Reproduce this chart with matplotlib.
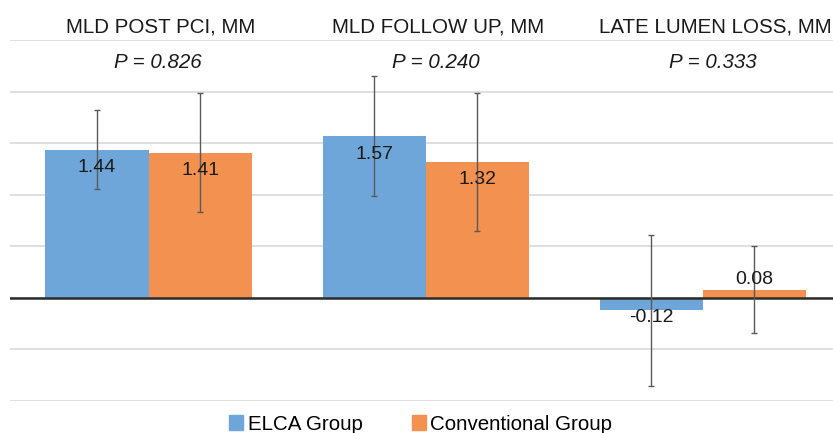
import numpy as np
import matplotlib.pyplot as plt
from matplotlib.patches import Patch

categories = ["MLD POST PCI, MM", "MLD FOLLOW UP, MM", "LATE LUMEN LOSS, MM"]
p_values = ["P = 0.826", "P = 0.240", "P = 0.333"]
elca = [1.44, 1.57, -0.12]
elca_err = [0.38, 0.58, 0.73]
conv = [1.41, 1.32, 0.08]
conv_err = [0.58, 0.67, 0.42]
series_names = ["ELCA Group", "Conventional Group"]

blue = "#6fa6da"
orange = "#f29150"
txt = "#1a1a1a"

plt.rcParams['font.family'] = ['Liberation Sans', 'DejaVu Sans']

fig = plt.figure(figsize=(8.33, 4.33), dpi=100)
ax = fig.add_axes([10 / 833, 1 - 401 / 433, 831.5 / 833, (401 - 40.3) / 433])

x = np.arange(len(categories))
w = 0.372

ax.set_xlim(-0.5, 2.5)
ax.set_ylim(-1.0, 2.5)
ax.set_yticks(np.arange(-1.0, 2.51, 0.5))
ax.yaxis.grid(True, color="#d9d9d9", linewidth=1.2)
ax.set_axisbelow(True)
for s in ax.spines.values():
    s.set_visible(False)
ax.tick_params(left=False, bottom=False, labelleft=False, labelbottom=False)

ax.bar(x - w / 2, elca, w, color=blue, zorder=2)
ax.bar(x + w / 2, conv, w, color=orange, zorder=2)
ax.axhline(0, color="#2b2b2b", linewidth=1.8, zorder=3)

ax.errorbar(x - w / 2, elca, yerr=elca_err, fmt="none", ecolor="#5a5a5a",
            elinewidth=1, capsize=2.5, capthick=1, zorder=4)
ax.errorbar(x + w / 2, conv, yerr=conv_err, fmt="none", ecolor="#5a5a5a",
            elinewidth=1, capsize=2.5, capthick=1, zorder=4)

# value labels (Excel-like placement)
def label(xp, v):
    if v > 0.5:
        off = -13
    elif v >= 0:
        off = 7
    else:
        off = -5
    ax.annotate(f"{v:.2f}", (xp, v), xytext=(0, off), textcoords="offset points",
                ha="center", va="center", fontsize=14, color=txt, zorder=5)

for xi, v in zip(x - w / 2, elca):
    label(xi, v)
for xi, v in zip(x + w / 2, conv):
    label(xi, v)

for xi, c, p in zip(x, categories, p_values):
    ax.text(xi + 0.045, 2.63, c, ha="center", va="center", fontsize=14.8,
            color=txt, clip_on=False)
    ax.text(xi + 0.035, 2.283, p, ha="center", va="center", fontsize=14.8,
            style="italic", color=txt, clip_on=False)

handles = [Patch(color=blue), Patch(color=orange)]
fig.legend(handles, series_names, loc="center", bbox_to_anchor=(0.505, 1 - 424 / 433),
           ncol=2, frameon=False, fontsize=14.8, handlelength=0.7, handleheight=0.7,
           handletextpad=0.2, columnspacing=2.4, borderpad=0)

fig.savefig("out.png", dpi=100)
